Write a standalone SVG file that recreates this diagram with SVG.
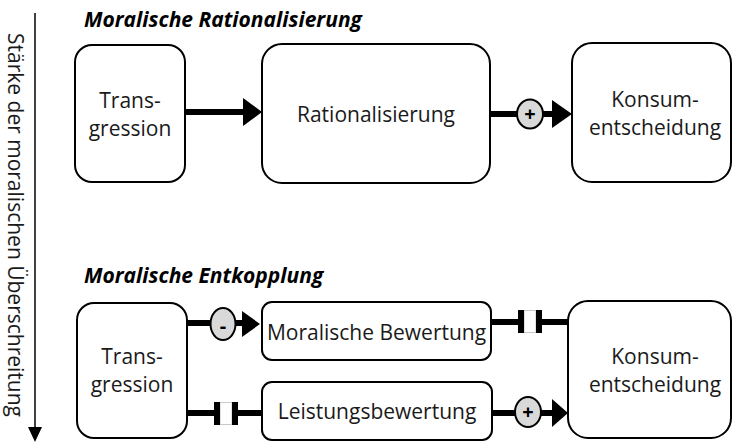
<svg xmlns="http://www.w3.org/2000/svg" width="732" height="443" viewBox="0 0 732 443">
<style>
.box{fill:#fff;stroke:#000;stroke-width:2}
.t{font-family:"Open Sans","Noto Sans",sans-serif;font-size:21px;fill:#1a1a1a;text-anchor:middle}
.title{font-family:"Open Sans","Noto Sans",sans-serif;font-size:21px;font-weight:bold;font-style:italic;fill:#000}
.ln{stroke:#000;stroke-width:6;fill:none}
.sign{fill:#d9d9d9;stroke:#000;stroke-width:2}
.st{font-family:"Open Sans","Noto Sans",sans-serif;font-size:20px;font-weight:bold;text-anchor:middle;fill:#000}
.bar{fill:#000}
.gap{fill:#fff;stroke:#c8c8c8;stroke-width:1}
</style>
<rect width="732" height="443" fill="#fff"/>

<g id="axis">
<line x1="35" y1="13" x2="35" y2="428" stroke="#000" stroke-width="1.5"/>
<polygon points="28,427 42,427 35,442" fill="#000"/>
<text class="t" font-size="19.6" transform="translate(8,225) rotate(90)" text-anchor="middle">Stärke der moralischen Überschreitung</text>
</g>

<text class="title" x="84" y="27">Moralische Rationalisierung</text>
<text class="title" x="84" y="283">Moralische Entkopplung</text>

<g id="connectors">
<line class="ln" x1="185" y1="112" x2="245" y2="112"/>
<polygon points="243,98 262,112 243,126" fill="#000"/>
<line class="ln" x1="490" y1="114" x2="554" y2="114"/>
<ellipse class="sign" cx="530" cy="114" rx="13" ry="14.5"/>
<text class="st" x="530" y="121">+</text>
<polygon points="552,100 572,114 552,128" fill="#000"/>

<line class="ln" x1="187" y1="323" x2="244" y2="323"/>
<ellipse class="sign" cx="223" cy="324" rx="12.5" ry="16"/>
<text class="st" x="223" y="333" font-size="24">-</text>
<polygon points="242,311 260,324 242,337" fill="#000"/>

<line class="ln" x1="187" y1="413" x2="214" y2="413"/>
<line class="ln" x1="238" y1="413" x2="262" y2="413"/>
<rect class="gap" x="220" y="402.5" width="12" height="22"/>
<rect class="bar" x="214" y="402" width="6" height="23"/>
<rect class="bar" x="232" y="402" width="6" height="23"/>

<line class="ln" x1="491" y1="322" x2="518" y2="322"/>
<line class="ln" x1="542" y1="322" x2="568" y2="322"/>
<rect class="gap" x="524" y="310.5" width="12" height="22"/>
<rect class="bar" x="518" y="310" width="6" height="23"/>
<rect class="bar" x="536" y="310" width="6" height="23"/>

<line class="ln" x1="492" y1="413" x2="553" y2="413"/>
<ellipse class="sign" cx="528" cy="412" rx="13" ry="15"/>
<text class="st" x="528" y="419">+</text>
<polygon points="552,399 568,413 552,427" fill="#000"/>
</g>

<g id="transgression1">
<rect class="box" x="75" y="45" width="110" height="137" rx="17"/>
<text class="t" x="130" y="108">Trans-</text>
<text class="t" x="130" y="136">gression</text>
</g>
<g id="rationalisierung">
<rect class="box" x="262" y="44" width="228" height="139" rx="20"/>
<text class="t" x="376" y="122">Rationalisierung</text>
</g>
<g id="konsum1">
<rect class="box" x="572" y="43" width="159" height="139" rx="20"/>
<text class="t" x="655" y="107">Konsum-</text>
<text class="t" x="655" y="135">entscheidung</text>
</g>

<g id="transgression2">
<rect class="box" x="77" y="303" width="110" height="135" rx="17"/>
<text class="t" x="132" y="364">Trans-</text>
<text class="t" x="132" y="392">gression</text>
</g>
<g id="moralische-bewertung">
<rect class="box" x="262" y="302" width="229" height="58" rx="10"/>
<text class="t" x="376.5" y="340">Moralische Bewertung</text>
</g>
<g id="leistungsbewertung">
<rect class="box" x="262" y="382" width="230" height="58" rx="10"/>
<text class="t" x="377" y="419">Leistungsbewertung</text>
</g>
<g id="konsum2">
<rect class="box" x="568" y="301" width="163" height="137" rx="20"/>
<text class="t" x="655" y="364">Konsum-</text>
<text class="t" x="655" y="392">entscheidung</text>
</g>
</svg>
